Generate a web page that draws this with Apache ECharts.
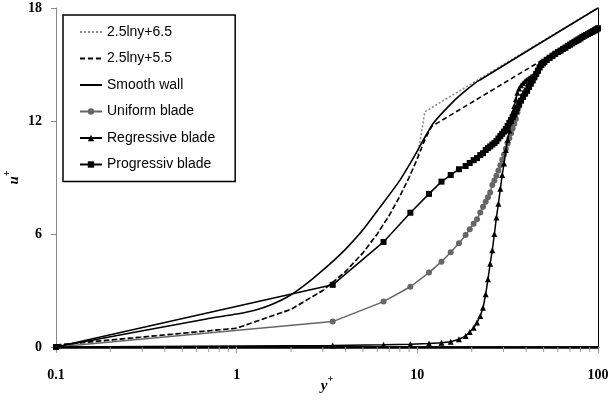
<!DOCTYPE html>
<html>
<head>
<meta charset="utf-8">
<script src="https://cdn.jsdelivr.net/npm/echarts@6/dist/echarts.min.js"></script>
<style>
html,body{margin:0;padding:0;background:#fff;}
#chart{width:611px;height:401px;}
</style>
</head>
<body>
<div id="chart"></div>
<script>
// ---- data ----
const xTickLabels = ['0.1', '1', '10', '100'];
const yTickLabels = ['0', '6', '12', '18'];
const minorTickValues = [0.2,0.3,0.4,0.5,0.6,0.7,0.8,0.9,2,3,4,5,6,7,8,9,20,30,40,50,60,70,80,90];

const seriesNames = ['2.5lny+6.5', '2.5lny+5.5', 'Smooth wall', 'Uniform blade', 'Regressive blade', 'Progressiv blade'];

const law65X = [0.1, 1, 2, 3, 4, 5, 6, 7, 8, 9, 10, 11, 100];
const law65U = [0.1, 1, 2, 3, 4, 5, 6, 7, 8, 9, 10, 12.49, 18.01];

const law55X = [0.1, 1, 2, 3, 4, 5, 6, 7, 8, 9, 10, 11, 12, 100];
const law55U = [0.1, 1, 2, 3, 4, 5, 6, 7, 8, 9, 10, 11, 11.71, 17.01];

const smoothX = [0.1, 0.68, 1.0, 1.29, 1.6, 1.96, 2.3, 2.63, 3.0, 3.42, 4.06, 5.0, 6.19, 8.0, 9.46, 12.2, 15.8, 19.0, 22.2, 100];
const smoothU = [0, 1.49, 1.75, 1.98, 2.3, 2.72, 3.18, 3.62, 4.08, 4.56, 5.25, 6.22, 7.4, 8.85, 10.0, 11.85, 13.03, 13.7, 14.18, 18.0];

const meshY = [0.1, 3.4, 6.5, 9.15, 11.6, 13.6, 15.3, 17.0, 18.5, 19.5, 20.5, 21.4, 22.3, 23.1, 23.9, 24.6, 25.3, 26.0, 26.7, 27.4, 28.1, 28.8, 29.5, 30.2, 30.9, 31.6, 32.3, 33.0, 33.7, 34.4, 35.1, 35.8, 36.6, 37.5, 38.5, 39.5, 40.5, 41.5, 42.5, 43.5, 44.5, 45.5, 46.5, 47.5, 48.5, 49.5, 50.5,
  52, 54, 56, 58, 60, 62, 64, 66, 68, 70, 72, 74, 76, 78, 80, 82, 84, 86, 88, 90, 92, 94, 96, 98, 100];

const uniformU = [0, 1.35, 2.41, 3.2, 3.95, 4.53, 5.03, 5.51, 5.95, 6.25, 6.55, 6.78, 7.14, 7.45, 7.71, 7.95, 8.2, 8.6, 8.84, 9.09, 9.37, 9.65, 9.94, 10.22, 10.52, 10.8, 11.09, 11.35, 11.6, 11.85, 12.1, 12.45, 12.8, 13.1, 13.35, 13.55, 13.72, 13.88, 14.04, 14.2, 14.35, 14.5, 14.67, 14.85, 14.97, 15.07, 15.15,
  15.25, 15.36, 15.47, 15.57, 15.66, 15.74, 15.82, 15.9, 15.99, 16.06, 16.13, 16.2, 16.27, 16.33, 16.39, 16.46, 16.52, 16.57, 16.62, 16.67, 16.72, 16.77, 16.82, 16.87, 16.92];

const regressiveU = [0, 0.08, 0.12, 0.15, 0.18, 0.22, 0.28, 0.41, 0.58, 0.8, 1.02, 1.3, 1.65, 2.08, 2.8, 3.6, 4.42, 5.14, 6.0, 6.88, 7.6, 8.4, 9.13, 9.75, 10.46, 11.0, 11.5, 12.0, 12.45, 12.8, 13.15, 13.5, 13.72, 13.9, 14.02, 14.12, 14.2, 14.27, 14.33, 14.38, 14.43, 14.5, 14.67, 14.85, 14.97, 15.07, 15.15,
  15.25, 15.36, 15.47, 15.57, 15.66, 15.74, 15.82, 15.9, 15.99, 16.06, 16.13, 16.2, 16.27, 16.33, 16.39, 16.46, 16.52, 16.57, 16.62, 16.67, 16.72, 16.77, 16.82, 16.87, 16.92];

const progressiveU = [0, 3.3, 5.58, 7.13, 8.13, 8.78, 9.13, 9.44, 9.61, 9.77, 9.92, 10.03, 10.19, 10.29, 10.46, 10.56, 10.65, 10.75, 10.83, 10.93, 11.07, 11.2, 11.32, 11.44, 11.58, 11.74, 11.9, 12.05, 12.2, 12.35, 12.52, 12.7, 12.88, 13.08, 13.28, 13.45, 13.6, 13.8, 13.98, 14.15, 14.32, 14.5, 14.67, 14.85, 14.97, 15.07, 15.15,
  15.25, 15.36, 15.47, 15.57, 15.66, 15.74, 15.82, 15.9, 15.99, 16.06, 16.13, 16.2, 16.27, 16.33, 16.39, 16.46, 16.52, 16.57, 16.62, 16.67, 16.72, 16.77, 16.82, 16.87, 16.92];

// ---- build ----
const zip = (xs, ys) => xs.map((x, i) => [x, ys[i]]);

const nameRich = {
  i: { fontFamily: 'Liberation Serif', fontStyle: 'italic', fontWeight: 'bold', fontSize: 15, color: '#000', lineHeight: 20, verticalAlign: 'bottom' },
  s: { fontFamily: 'Liberation Serif', fontWeight: 'bold', fontSize: 10, color: '#000', lineHeight: 10, verticalAlign: 'top' }
};
const tickFont = { fontFamily: 'Liberation Serif', fontWeight: 'bold', fontSize: 14, color: '#000' };
const noMarker = { color: 'rgba(0,0,0,0)', borderWidth: 0 };

const chart = echarts.init(document.getElementById('chart'), null, { renderer: 'canvas' });
const option = {
  animation: false,
  backgroundColor: '#fff',
  grid: { left: 56, right: 13, top: 8, bottom: 54, containLabel: false, outerBoundsMode: 'none' },
  legend: {
    data: [
      { name: seriesNames[0], itemStyle: noMarker },
      { name: seriesNames[1], itemStyle: noMarker },
      { name: seriesNames[2], itemStyle: noMarker },
      { name: seriesNames[3] },
      { name: seriesNames[4] },
      { name: seriesNames[5] }
    ],
    orient: 'vertical',
    left: 63,
    top: 15,
    padding: [10, 20, 10, 16],
    itemWidth: 22,
    itemHeight: 8,
    itemGap: 12.5,
    borderColor: '#000',
    borderWidth: 1.5,
    backgroundColor: '#fff',
    textStyle: { fontFamily: 'Liberation Sans', fontSize: 14, lineHeight: 14, color: '#000' }
  },
  xAxis: [{
    type: 'log', logBase: 10, min: 0.1, max: 100, position: 'bottom',
    axisLine: { lineStyle: { color: '#000', width: 1.5 } },
    axisTick: { length: 6, lineStyle: { color: '#999' } },
    axisLabel: Object.assign({ margin: 21, formatter: v => xTickLabels[Math.round(Math.log10(v)) + 1] }, tickFont),
    splitLine: { show: false },
    name: '{i|y}{s|+}', nameLocation: 'middle', nameGap: 27, nameMoveOverlap: false,
    nameTextStyle: { rich: nameRich }
  }, {
    type: 'log', logBase: 10, min: 0.1, max: 100, position: 'top',
    axisLine: { lineStyle: { color: '#000', width: 2.5 } },
    axisTick: { show: false }, axisLabel: { show: false }, splitLine: { show: false }
  }],
  yAxis: [{
    type: 'value', min: 0, max: 18, interval: 6,
    axisLine: { show: true, lineStyle: { color: '#888', width: 1 } },
    axisTick: { show: true, length: 5, lineStyle: { color: '#888' } },
    axisLabel: Object.assign({ margin: 14, formatter: v => yTickLabels[Math.round(v / 6)] }, tickFont),
    splitLine: { show: false },
    name: '{i|u}{s|+}', nameLocation: 'middle', nameGap: 34, nameRotate: 90, nameMoveOverlap: false,
    nameTextStyle: { rich: nameRich }
  }, {
    type: 'value', min: 0, max: 18, position: 'right',
    axisLine: { show: true, lineStyle: { color: '#000', width: 1 } },
    axisTick: { show: false }, axisLabel: { show: false }, splitLine: { show: false }
  }],
  series: [
    {
      name: seriesNames[0], type: 'line', data: zip(law65X, law65U), symbol: 'none',
      lineStyle: { color: '#8a8a8a', width: 1.6, type: [2, 2] }, itemStyle: { color: '#8a8a8a' }, z: 2
    },
    {
      name: seriesNames[1], type: 'line', data: zip(law55X, law55U), symbol: 'none',
      lineStyle: { color: '#000', width: 1.6, type: [5, 3] }, itemStyle: { color: '#000' }, z: 3
    },
    {
      name: seriesNames[2], type: 'line', data: zip(smoothX, smoothU), symbol: 'none', smooth: 0.2,
      lineStyle: { color: '#000', width: 1.6 }, itemStyle: { color: '#000' }, z: 4
    },
    {
      name: seriesNames[3], type: 'line', data: zip(meshY, uniformU), symbol: 'circle', symbolSize: 6, showAllSymbol: true,
      lineStyle: { color: '#666', width: 1.5 }, itemStyle: { color: '#666' }, z: 5
    },
    {
      name: seriesNames[4], type: 'line', data: zip(meshY, regressiveU), symbol: 'triangle', symbolSize: 6, showAllSymbol: true,
      lineStyle: { color: '#000', width: 1.5 }, itemStyle: { color: '#000' }, z: 6
    },
    {
      name: seriesNames[5], type: 'line', data: zip(meshY, progressiveU), symbol: 'rect', symbolSize: 6, showAllSymbol: true,
      lineStyle: { color: '#000', width: 1.5 }, itemStyle: { color: '#000' }, z: 7
    },
    {
      name: 'minorTicks', type: 'custom', silent: true, z: 1,
      data: minorTickValues.map(v => [v, 0]),
      encode: { x: 0, y: 1 },
      renderItem: (params, api) => {
        const p = api.coord([api.value(0), 0]);
        return { type: 'line', shape: { x1: p[0], y1: p[1], x2: p[0], y2: p[1] + 5 }, style: { stroke: '#999', lineWidth: 1 } };
      }
    }
  ]
};
chart.setOption(option);
</script>
</body>
</html>
